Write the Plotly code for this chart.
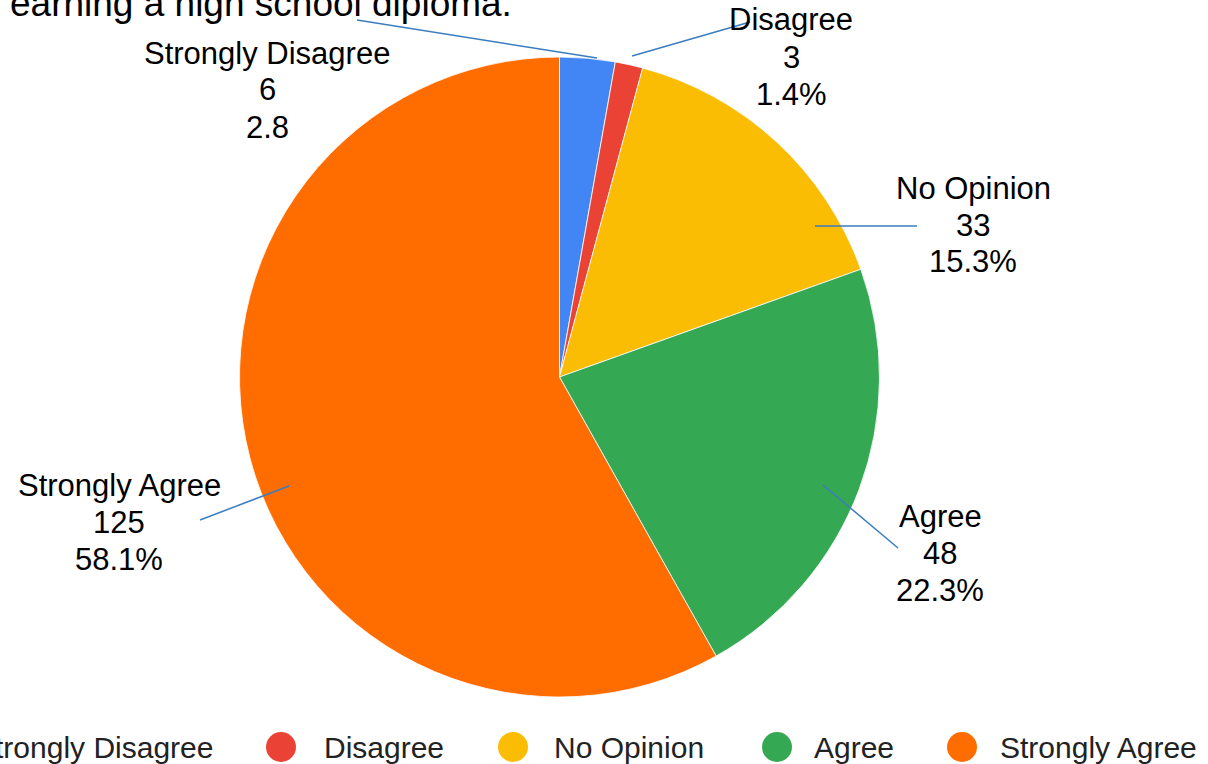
import plotly.graph_objects as go

W, H = 1208, 764

# ---- data ----
categories = ["Strongly Disagree", "Disagree", "No Opinion", "Agree", "Strongly Agree"]
counts = [6, 3, 33, 48, 125]
pct_labels = ["2.8", "1.4%", "15.3%", "22.3%", "58.1%"]
colors = ["#4285F4", "#EA4335", "#FBBC04", "#34A853", "#FF6D01"]
title_text = "earning a high school diploma."

# ---- layout helpers (pixel positions of label blocks / leader lines) ----
label_pos = [  # (x center, y of first line)
    (267, 53), (791, 20), (973, 188), (940, 516), (119, 485)
]
line_gap = 37
leader = [
    ((357, 20), (597, 58)),
    ((632, 56), (750, 22)),
    ((815, 226), (917, 226)),
    ((823, 485), (898, 548)),
    ((200, 520), (289, 486)),
]
legend_circle_x = [-76, 281, 513, 777, 962]
legend_text_x = [(215, "right"), (322, "left"), (552, "left"), (812, "left"), (998, "left")]
legend_y = 747

def px(x):
    return x / W

def py(y):
    return 1 - y / H

cx, cy, r = 559.5, 377, 320

fig = go.Figure(go.Pie(
    labels=categories,
    values=counts,
    marker=dict(colors=colors, line=dict(color="white", width=0.8)),
    sort=False,
    direction="clockwise",
    rotation=0,
    textinfo="none",
    hoverinfo="label+value+percent",
    showlegend=False,
    domain=dict(x=[px(cx - r), px(cx + r)], y=[py(cy + r), py(cy - r)]),
))

annotations = []
shapes = []
font_lbl = dict(family="Liberation Sans, Arial, sans-serif", size=31, color="#000000")
for i, cat in enumerate(categories):
    lx, ly = label_pos[i]
    for j, t in enumerate([cat, str(counts[i]), pct_labels[i]]):
        annotations.append(dict(
            x=px(lx), y=py(ly + j * line_gap), xref="paper", yref="paper",
            text=t, showarrow=False, xanchor="center", yanchor="middle",
            font=font_lbl,
        ))
    (x0, y0), (x1, y1) = leader[i]
    shapes.append(dict(type="line", xref="paper", yref="paper",
                       x0=px(x0), y0=py(y0), x1=px(x1), y1=py(y1),
                       line=dict(color="#3A7DC0", width=1.5)))

# legend
rad = 15
for i, cat in enumerate(categories):
    x = legend_circle_x[i]
    shapes.append(dict(type="circle", xref="paper", yref="paper",
                       x0=px(x - rad), x1=px(x + rad), y0=py(legend_y + rad), y1=py(legend_y - rad),
                       fillcolor=colors[i], line=dict(width=0)))
    tx, anc = legend_text_x[i]
    annotations.append(dict(
        x=px(tx), y=py(legend_y), xref="paper", yref="paper", text=cat,
        showarrow=False, xanchor=anc, yanchor="middle",
        font=dict(family="Liberation Sans, Arial, sans-serif", size=30, color="#222222"),
    ))

# title (partially cropped)
annotations.append(dict(
    x=px(8), y=py(4), xref="paper", yref="paper", text=title_text,
    showarrow=False, xanchor="left", yanchor="middle",
    font=dict(family="Liberation Sans, Arial, sans-serif", size=37, color="#000000"),
))

fig.update_layout(
    width=W, height=H,
    margin=dict(l=0, r=0, t=0, b=0),
    paper_bgcolor="white", plot_bgcolor="white",
    annotations=annotations, shapes=shapes,
    showlegend=False,
)

fig.write_html(
    "out.html",
    config={"displayModeBar": False},
    post_script="document.body.style.margin='0';document.body.style.overflow='hidden';",
)
